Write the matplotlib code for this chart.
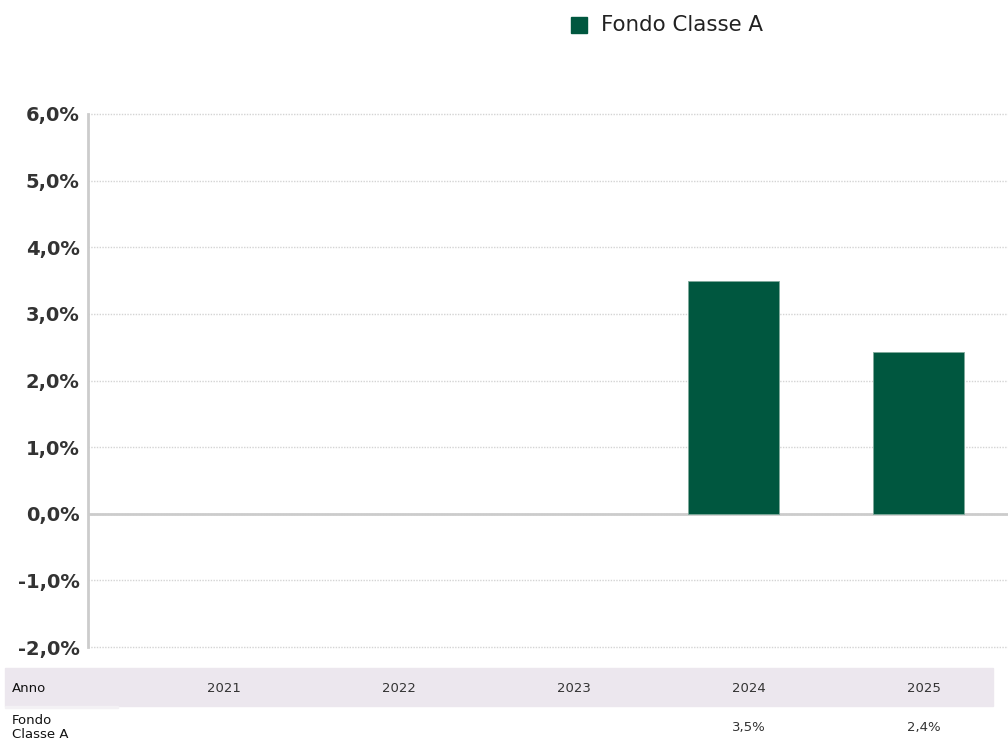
import matplotlib
matplotlib.use("Agg")
import matplotlib.pyplot as plt
from matplotlib.patches import Rectangle
from matplotlib.ticker import FuncFormatter

plt.rcParams['font.family'] = ['DejaVu Sans']

years = ["2021", "2022", "2023", "2024", "2025"]
values = [None, None, None, 3.5, 2.43]
value_labels = ["", "", "", "3,5%", "2,4%"]
series_name = "Fondo Classe A"
row_header = "Anno"
row_label = "Fondo\nClasse A"
yticks = [-2, -1, 0, 1, 2, 3, 4, 5, 6]

W, H = 1008, 742
fig = plt.figure(figsize=(W / 100, H / 100), dpi=100)

green = "#00573F"
ax = fig.add_axes([88 / W, 1 - 647 / H, (1009 - 88) / W, (647 - 114) / H])
xs = list(range(len(years)))
for x, v in zip(xs, values):
    if v is not None:
        ax.bar(x, v, width=0.49, color=green, edgecolor="#7fa99b", linewidth=0.6, zorder=3)

ax.set_xlim(-0.49, 4.49)
ax.set_ylim(-2, 6)
ax.set_yticks(yticks)
ax.yaxis.set_major_formatter(FuncFormatter(lambda v, p: f"{v:.1f}%".replace(".", ",")))
for lab in ax.get_yticklabels():
    lab.set_fontweight("bold")
    lab.set_fontsize(14)
    lab.set_color("#333333")
ax.tick_params(axis="y", length=0, pad=6)
ax.set_xticks([])
for s in ["top", "right", "bottom"]:
    ax.spines[s].set_visible(False)
ax.spines["left"].set_color("#cccccc")
ax.spines["left"].set_linewidth(2)
ax.grid(axis="y", color="#d4d4d4", linestyle=(0, (1, 1)), linewidth=1, zorder=0, clip_on=False)
ax.axhline(0, color="#cccccc", linewidth=2, zorder=2)

# legend
fig.patches.append(Rectangle((571 / W, 1 - 33 / H), 16 / W, 16 / H, color=green,
                             transform=fig.transFigure, figure=fig))
fig.text(601 / W, 1 - 25 / H, series_name, fontsize=15.4, color="#222222", va="center", ha="left")

# table
fig.patches.append(Rectangle((5 / W, 1 - 706 / H), 988 / W, 38 / H, color="#ECE7EE",
                             transform=fig.transFigure, figure=fig, zorder=0))
fig.patches.append(Rectangle((5 / W, 1 - 708 / H), 113 / W, 2 / H, color="#F3F1F4",
                             transform=fig.transFigure, figure=fig, zorder=0))
fig.text(12 / W, 1 - 688 / H, row_header, fontsize=9.5, color="#111111", va="center", ha="left")
fig.text(12 / W, 1 - 727 / H, row_label, fontsize=9.5, color="#111111", va="center", ha="left",
         linespacing=1.1)
col_centers = [224, 399, 574, 749, 924]
for cx, yr, vl in zip(col_centers, years, value_labels):
    fig.text(cx / W, 1 - 688 / H, yr, fontsize=9.5, color="#333333", va="center", ha="center")
    if vl:
        fig.text(cx / W, 1 - 727 / H, vl, fontsize=9.5, color="#333333", va="center", ha="center")

fig.savefig("out.png", dpi=100)
